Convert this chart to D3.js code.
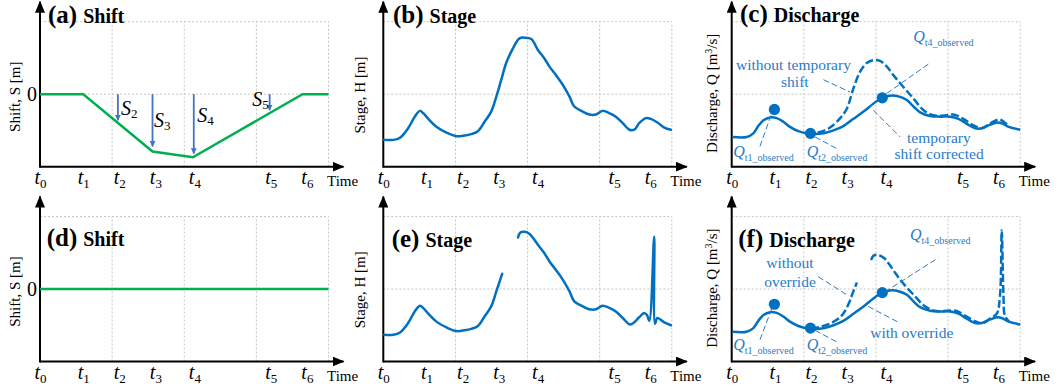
<!DOCTYPE html>
<html><head><meta charset="utf-8">
<script src="https://cdn.jsdelivr.net/npm/d3@7"></script>
<style>body{margin:0;background:#fff}svg{display:block}</style>
</head><body>
<svg id="c" width="1058" height="390"></svg>
<script>
// ---------- data ----------
const tickNames = ["0","1","2","3","4","5","6"];
const tickTimes = [0, 15, 27.5, 40, 53.5, 80, 92.5];
const gridTimes = [25, 50, 75, 100];
const gridLevels = [1, 2];

// (a) shift with temporary shift
const shiftTime  = [0, 15, 39, 53, 91, 100];
const shiftValue = [0, 0, -0.79, -0.87, 0, 0];
const shiftArrowTime  = [27, 39, 53.3, 79.6];
const shiftArrowValue = [-0.36, -0.72, -0.82, -0.22];
const shiftArrowName  = ["2", "3", "4", "5"];
// (d) no shift
const shiftTimeD  = [0, 100];
const shiftValueD = [0, 0];

// (b) stage
const stageTime  = [0.3,3.5,5.8,8.6,10.9,12.7,13.8,15.6,18.4,21.9,25.3,28.2,30.5,32.8,35.1,37.4,39.2,40.9,42.6,44.9,47.2,49.0,51.3,53.6,55.9,57.6,59.9,62.2,64.5,66.2,69.1,71.4,73.7,76.0,78.3,80.6,83.0,85.3,87.0,88.7,91.0,92.7,95.0,97.4,99.7];
const stageValue = [0.37,0.37,0.40,0.53,0.69,0.77,0.74,0.66,0.55,0.47,0.42,0.43,0.45,0.49,0.62,0.76,0.97,1.20,1.43,1.63,1.77,1.78,1.76,1.61,1.49,1.38,1.26,1.13,0.97,0.83,0.76,0.72,0.72,0.77,0.74,0.69,0.60,0.51,0.51,0.60,0.67,0.66,0.61,0.54,0.51];
// (e) stage with gap and spike
const stageTimeE  = [0.3,3.5,5.8,8.6,10.9,12.7,13.8,15.6,18.4,21.9,25.3,28.2,30.5,32.8,35.1,37.4,39.2,41.2,44.0,46.7,47.5,49.0,50.7,53.6,55.9,57.6,59.9,62.2,64.5,66.2,69.1,71.4,73.7,76.0,78.3,80.6,83.0,85.6,88.7,90.4,91.4,92.2,93.9,94.2,95.0,97.4,99.7];
const stageValueE = [0.37,0.37,0.40,0.53,0.69,0.77,0.74,0.66,0.55,0.47,0.42,0.43,0.45,0.49,0.62,0.76,0.97,1.21,null,1.71,1.78,1.79,1.76,1.61,1.49,1.38,1.26,1.13,0.97,0.83,0.76,0.72,0.72,0.77,0.74,0.69,0.60,0.51,0.61,0.67,0.64,0.56,1.72,0.52,0.60,0.54,0.50];

// (c)/(f) discharge, corrected / with override
const qTime  = [0.3,5.2,7.5,9.2,11.0,13.3,15.6,17.9,20.2,23.1,26.0,28.9,31.8,35.3,38.7,42.2,45.7,49.1,52.0,54.9,57.8,60.7,63.0,65.3,68.8,72.3,75.7,78.6,81.5,84.4,86.7,89.6,91.9,93.6,96.0,100];
const qValue = [0.41,0.41,0.46,0.56,0.64,0.68,0.67,0.62,0.55,0.49,0.46,0.45,0.46,0.50,0.56,0.66,0.76,0.87,0.95,0.98,0.97,0.92,0.83,0.75,0.70,0.69,0.69,0.66,0.59,0.53,0.53,0.58,0.61,0.60,0.55,0.51];
// (c) without temporary shift
const qNoShiftTime  = [26.0,30.6,34.1,37.6,39.9,42.2,44.5,46.8,49.1,51.4,53.8,56.1,59.5,63.0,66.5,69.9,74.6,76.9,80.3,83.8,86.7,89.6,92.5,93.6,96.0];
const qNoShiftValue = [0.46,0.48,0.54,0.67,0.80,1.08,1.31,1.43,1.47,1.46,1.38,1.26,1.10,0.94,0.78,0.71,0.71,0.72,0.66,0.57,0.53,0.60,0.65,0.64,0.56];
// (f) without override
const qNoOverTime  = [27.5,30.9,34.4,37.3,39.0,40.8,41.9,43.4,45.5,48.3,49.2,50.6,52.7,54.6,56.9,59.8,63.3,66.7,70.2,74.8,77.7,80.6,84.1,87.0,89.8,91.9,93.0,93.6,94.2,94.7,96.2];
const qNoOverValue = [0.45,0.48,0.53,0.60,0.68,0.82,0.94,1.09,null,1.40,1.46,1.47,1.43,1.34,1.21,1.06,0.91,0.77,0.70,0.70,0.70,0.64,0.56,0.53,0.60,0.66,0.91,1.81,0.91,0.63,0.55];
// observations
const qObsTime  = [14.8, 27.3, 52.2];
const qObsValue = [0.79, 0.46, 0.95];
const qObsName  = ["t1_observed", "t2_observed", "t4_observed"];

// ---------- layout ----------
const W = 288.5, H = 145;
const BLUE = "#0070C0", TXT = "#2A7BC8", GREEN = "#00B050", SBLUE = "#4472C4";
const SERIF = "'Liberation Serif','Times New Roman',serif";
const panels = [
  {key:"a", word:"Shift", left:40, top:21.7, kind:"shift", tb:1.5, tx:8},
  {key:"b", word:"Stage", left:383.3, top:21.7, kind:"stage", tb:1, tx:9.7},
  {key:"c", word:"Discharge", left:731.7, top:21.7, kind:"q", tb:0.5, tx:8.3},
  {key:"d", word:"Shift", left:40, top:216.5, kind:"shift", tb:29.2, tx:6.7},
  {key:"e", word:"Stage", left:383.3, top:216.5, kind:"stage", tb:30, tx:8.4},
  {key:"f", word:"Discharge", left:731.7, top:216.5, kind:"q", tb:30, tx:6.6}
];

const svg = d3.select("#c");
const defs = svg.append("defs");
defs.append("marker").attr("id","ak").attr("viewBox","0 0 12 10").attr("refX",11).attr("refY",5)
  .attr("markerWidth",12).attr("markerHeight",10).attr("markerUnits","userSpaceOnUse").attr("orient","auto")
  .append("path").attr("d","M0,0L12,5L0,10z").attr("fill","#000");
defs.append("marker").attr("id","ab").attr("viewBox","0 0 6 6").attr("refX",5.5).attr("refY",3)
  .attr("markerWidth",6).attr("markerHeight",6).attr("markerUnits","userSpaceOnUse").attr("orient","auto")
  .append("path").attr("d","M0,0L6,3L0,6z").attr("fill",SBLUE);

const zip = (ts, vs) => ts.map((t,i)=>({t, v:vs[i]}));

panels.forEach(p => {
  const g = svg.append("g").attr("transform", `translate(${p.left},${p.top})`);
  const x = d3.scaleLinear().domain([0,100]).range([0,W]);
  const y = p.kind === "shift" ? d3.scaleLinear().domain([-1,1]).range([H,0])
                               : d3.scaleLinear().domain([0,2]).range([H,0]);
  const yg = d3.scaleLinear().domain([0,2]).range([H,0]);

  // grid
  g.append("g").selectAll("line").data(gridTimes).join("line")
    .attr("x1", d=>x(d)).attr("x2", d=>x(d)).attr("y1", H).attr("y2", yg(2))
    .attr("stroke","#c4c4c4").attr("stroke-width",1).attr("stroke-dasharray","2,2");
  g.append("g").selectAll("line").data(gridLevels).join("line")
    .attr("x1", 0).attr("x2", W).attr("y1", d=>yg(d)).attr("y2", d=>yg(d))
    .attr("stroke","#c4c4c4").attr("stroke-width",1).attr("stroke-dasharray","2,2");

  // x axis ticks (labels only)
  const ax = g.append("g").attr("transform", `translate(0,${H})`)
    .call(d3.axisBottom(x).tickValues(tickTimes).tickSize(0).tickFormat(()=>""));
  ax.select(".domain").remove();
  ax.attr("font-family", null).attr("font-size", null);
  ax.selectAll(".tick text").attr("dy", null).attr("y", 17.5)
    .attr("font-family", SERIF).attr("font-size", 20).attr("fill","#000")
    .each(function(d,i){
      const t = d3.select(this);
      t.append("tspan").attr("font-style","italic").text("t");
      t.append("tspan").attr("font-size",13).attr("dy",3.5).text(tickNames[i]);
    });
  g.append("text").attr("x", W-1.5).attr("y", H+19).attr("font-family",SERIF).attr("font-size",15).text("Time");

  // axes with arrows
  g.append("line").attr("x1",0).attr("y1",H).attr("x2",W+15).attr("y2",H)
    .attr("stroke","#000").attr("stroke-width",2).attr("marker-end","url(#ak)");
  g.append("line").attr("x1",0).attr("y1",H+1).attr("x2",0).attr("y2",-20)
    .attr("stroke","#000").attr("stroke-width",2).attr("marker-end","url(#ak)");

  // title
  const tt = g.append("text").attr("x", p.tx).attr("y", p.tb).attr("font-family",SERIF).attr("font-weight","bold");
  tt.append("tspan").attr("font-size",25).text(`(${p.key})`);
  tt.append("tspan").attr("font-size",20).attr("dx",6).text(p.word);

  // y label
  const ylab = {shift:["Shift, S [m]",-25,75], stage:["Stage, H [m]",-23.3,73.3], q:["Discharge, Q [m",-20,71.6]}[p.kind];
  const yt = g.append("text").attr("transform", `translate(${ylab[1]},${ylab[2]}) rotate(-90)`)
    .attr("text-anchor","middle").attr("dy","0.35em").attr("font-family",SERIF).attr("font-size",15).attr("fill","#000");
  yt.append("tspan").text(ylab[0]);
  if (p.kind === "q") {
    yt.append("tspan").attr("font-size",10).attr("dy",-5).text("3");
    yt.append("tspan").attr("dy",5).text("/s]");
  }

  const curve = d3.line().defined(d=>d.v!==null).x(d=>x(d.t)).y(d=>y(d.v)).curve(d3.curveCatmullRom.alpha(0.5));

  if (p.kind === "shift") {
    g.append("text").attr("x",-3).attr("y", y(0)+7).attr("text-anchor","end")
      .attr("font-family",SERIF).attr("font-size",20).text("0");
    const data = p.key === "a" ? zip(shiftTime, shiftValue) : zip(shiftTimeD, shiftValueD);
    g.append("path").attr("d", d3.line().x(d=>x(d.t)).y(d=>y(d.v))(data))
      .attr("fill","none").attr("stroke",GREEN).attr("stroke-width",2.5);
    if (p.key === "a") {
      const labPos = [{dx:3, v:-0.29, a:"start"}, {dx:1.5, v:-0.45, a:"start"}, {dx:3.4, v:-0.39, a:"start"}, {dx:-1, v:-0.16, a:"end"}];
      shiftArrowTime.forEach((t,i)=>{
        g.append("line").attr("x1",x(t)).attr("x2",x(t)).attr("y1",y(0)).attr("y2",y(shiftArrowValue[i]))
          .attr("stroke",SBLUE).attr("stroke-width",1.8).attr("marker-end","url(#ab)");
        const lt = g.append("text").attr("x", x(t)+labPos[i].dx).attr("y", y(labPos[i].v))
          .attr("text-anchor", labPos[i].a).attr("font-family",SERIF).attr("font-size",20);
        lt.append("tspan").attr("font-style","italic").text("S");
        lt.append("tspan").attr("font-size",13).attr("dy",3).text(shiftArrowName[i]);
      });
    }
  } else if (p.kind === "stage") {
    const data = p.key === "b" ? zip(stageTime, stageValue) : zip(stageTimeE, stageValueE);
    g.append("path").attr("d", curve(data)).attr("fill","none").attr("stroke",BLUE).attr("stroke-width",2.5)
      .attr("stroke-linejoin","round").attr("stroke-linecap","round");
  } else {
    const dashed = p.key === "c" ? zip(qNoShiftTime, qNoShiftValue) : zip(qNoOverTime, qNoOverValue);
    g.append("path").attr("d", curve(dashed)).attr("fill","none").attr("stroke",BLUE).attr("stroke-width",2.5)
      .attr("stroke-dasharray","8,3");
    g.append("path").attr("d", curve(zip(qTime, qValue))).attr("fill","none").attr("stroke",BLUE).attr("stroke-width",2.5)
      .attr("stroke-linejoin","round");
    g.selectAll("circle.obs").data(zip(qObsTime, qObsValue)).join("circle").attr("class","obs")
      .attr("cx", d=>x(d.t)).attr("cy", d=>y(d.v)).attr("r",5.6).attr("fill",BLUE);

    // annotations (layout in panel coordinates: t, v)
    const leaders = p.key === "c"
      ? [[9.8,0.28,13.9,0.74],[28.9,0.41,36.4,0.25],[53.7,1.01,68.7,1.43],[31.8,1.20,41.0,1.03],[49.1,0.78,58.4,0.41]]
      : [[9.8,0.30,13.9,0.73],[28.9,0.43,36.4,0.27],[53.1,0.96,71.6,1.43],[30.0,1.17,39.9,0.92],[47.3,0.76,58.3,0.53]];
    g.selectAll("line.ld").data(leaders).join("line").attr("class","ld")
      .attr("x1",d=>x(d[0])).attr("y1",d=>y(d[1])).attr("x2",d=>x(d[2])).attr("y2",d=>y(d[3]))
      .attr("stroke",TXT).attr("stroke-width",1).attr("stroke-dasharray","6,3");
    const words = p.key === "c"
      ? [["without temporary",21.4,1.33],["shift",21.9,1.10],["temporary",71.8,0.33],["shift corrected",71.9,0.10]]
      : [["without",20.2,1.29],["override",20.2,1.03],["with override",62.4,0.32]];
    g.selectAll("text.ann").data(words).join("text").attr("class","ann")
      .attr("x",d=>x(d[1])).attr("y",d=>y(d[2])).attr("text-anchor","middle")
      .attr("font-family",SERIF).attr("font-size",15.5).attr("fill",TXT).text(d=>d[0]);
    const qpos = p.key === "c" ? [[0.55,0.14],[26.0,0.14],[62.9,1.72]] : [[0.55,0.16],[26.0,0.16],[61.8,1.68]];
    qpos.forEach((q,i)=>{
      const qt = g.append("text").attr("x",x(q[0])).attr("y",y(q[1])).attr("font-family",SERIF).attr("fill",TXT);
      qt.append("tspan").attr("font-style","italic").attr("font-size",16).text("Q");
      qt.append("tspan").attr("font-size",10).attr("dy",4).text(qObsName[i]);
    });
  }
});
</script>
</body></html>
